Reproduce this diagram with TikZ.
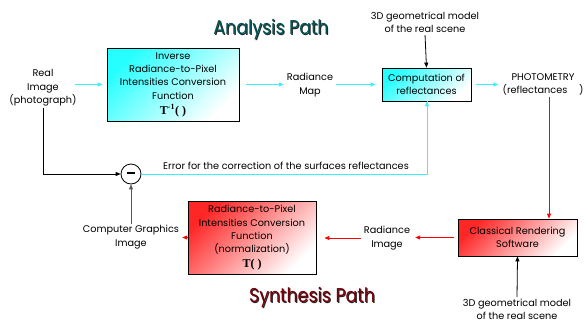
\documentclass[tikz,border=0pt]{standalone}
\usepackage{fontspec}
\setmainfont{Poppins}
\newfontfamily\serif{Liberation Serif}
\usetikzlibrary{arrows.meta,positioning,calc}

\definecolor{cyline}{RGB}{60,240,250}
\definecolor{titleteal}{RGB}{0,85,85}
\definecolor{titlered}{RGB}{120,0,10}

\begin{document}
\begin{tikzpicture}[x=1pt,y=-1pt,
	txt/.style={align=center,font=\fontsize{9.7}{13.4}\selectfont,inner sep=1pt},
	cybox/.style={draw,thick,txt,top color=cyan!85,bottom color=white,shading angle=45},
	rdbox/.style={draw,thick,txt,top color=red!85,bottom color=white,shading angle=45},
	cy/.style={cyline,line width=1pt,-{Triangle[length=5pt,width=4pt]}},
	rd/.style={red,line width=0.9pt,-{Triangle[length=5pt,width=4pt]}},
	bk/.style={black,line width=0.8pt,-{Triangle[length=5pt,width=4pt]}},
	title/.style={font=\fontsize{20}{20}\selectfont,xscale=0.87,inner sep=0pt}]
	\useasboundingbox (0,0) rectangle (586,322);
	% titles
	\node [title,black!85] at (272,30) {Analysis Path};
	\node [title,titleteal] (ta) at (271,29) {Analysis Path};
	\node [title,black!85] at (313,298) {Synthesis Path};
	\node [title,titlered] (ts) at (312,297) {Synthesis Path};
	% analysis path
	\node [txt] (real) at (43,88) {Real\\Image\\(photograph)};
	\node [cybox,minimum width=132,minimum height=73] (inv) at (173,84.5)
		{Inverse\\Radiance-to-Pixel\\Intensities Conversion\\Function\\[1.5pt]
		{\serif\bfseries\fontsize{12}{12}\selectfont T\textsuperscript{-1}( )}};
	\node [txt] (map) at (310,85) {Radiance\\Map};
	\node [cybox,minimum width=89,minimum height=33] (comp) at (426.5,84.5)
		{Computation of\\reflectances};
	\node [txt] (geoa) at (425,22.5) {3D geometrical model\\of the real scene};
	\node [txt] (photo) at (543,84.5) {PHOTOMETRY\\(reflectances\hspace{1.2em})};
	% synthesis path
	\node [rdbox,minimum width=119,minimum height=37] (rend) at (517.5,237.5)
		{Classical Rendering\\Software};
	\node [txt] (geob) at (517,309.5) {3D geometrical model\\of the real scene};
	\node [txt] (rimg) at (387,238) {Radiance\\Image};
	\node [rdbox,minimum width=128,minimum height=73] (fwd) at (252,237.5)
		{Radiance-to-Pixel\\Intensities Conversion\\Function\\(normalization)\\[1pt]
		{\serif\bfseries\fontsize{12}{12}\selectfont T( )}};
	\node [txt] (cgi) at (131,237) {Computer Graphics\\Image};
	\node [circle,draw,thick,minimum size=20,inner sep=0pt] (sub) at (131,174)
		{\rule[0.4ex]{8pt}{2.6pt}};
	\node [txt,anchor=south] (err) at (286,171)
		{Error for the correction of the surfaces reflectances};
	% connectors
	\draw [cy,shorten <=-3pt,shorten >=4pt] (real.east |- inv.west) -- (inv.west);
	\draw [cy,shorten <=7pt,shorten >=2pt] (inv.east) -- (map.west |- inv.east);
	\draw [cy,shorten <=2pt,shorten >=6pt] (map.east |- comp.west) -- (comp.west);
	\draw [cy,shorten <=5pt,shorten >=3pt] (comp.east) -- (photo.west |- comp.east);
	\draw [bk,shorten <=1pt] (geoa.south) -- (comp.north);
	\draw [rd] ($(photo.south)+(6,0)$) -- ($(rend.north)+(31.5,0)$);
	\draw [bk,shorten <=1pt] (geob.north) -- (rend.south);
	\draw [rd,shorten <=4pt,shorten >=4pt] (rend.west) -- (rimg.east |- rend.west);
	\draw [rd,shorten <=2pt,shorten >=8pt] (rimg.west) -- (fwd.east |- rimg.west);
	\draw [rd,shorten >=2pt] (fwd.west) -- (cgi.east |- fwd.west);
	\draw [gray!70!black,line width=0.9pt,-{Triangle[length=5pt,width=4pt]}] (cgi.north) -- (sub.south);
	\draw [bk] (real.south) |- (sub.west);
	\draw [cy,-] (sub.east) -| ($(comp.south)+(0.5,0)$);
	\draw [cy] ($(comp.south)+(0.5,40)$) -- ($(comp.south)+(0.5,0)$);
\end{tikzpicture}
\end{document}
